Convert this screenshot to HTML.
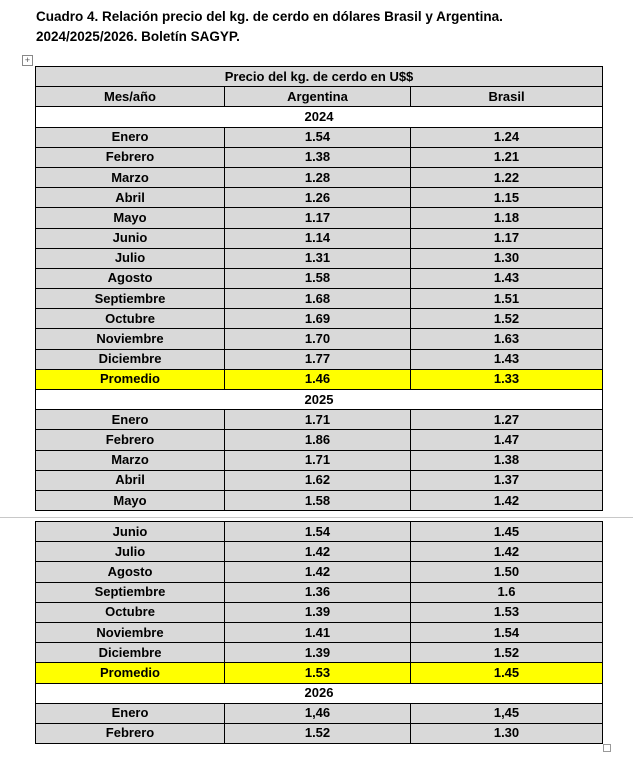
<!DOCTYPE html>
<html><head><meta charset="utf-8"><style>
body{margin:0;width:633px;height:761px;background:#fff;position:relative;overflow:hidden;font-family:"Liberation Sans",sans-serif;font-weight:bold;color:#000}
.t{position:absolute;left:36px;font-size:13.5px;line-height:20px}
table{position:absolute;left:35px;border-collapse:collapse;table-layout:fixed;width:567px}
td{border:1px solid #000;background:#d9d9d9;text-align:center;font-size:13px;padding:0;height:19.2px;line-height:18px;overflow:hidden}
tr.w td{background:#fff}
tr.y td{background:#ffff00}
.brk{position:absolute;left:0;top:517px;width:633px;height:1px;background:#c8c8c8}
.mv{position:absolute;left:22px;top:55px;width:9px;height:9px;border:1px solid #888;font-size:9px;line-height:9px;text-align:center;color:#555;font-weight:normal}
.sq{position:absolute;left:603px;top:744px;width:6px;height:6px;border:1px solid #999}
</style></head><body>
<div class="t" style="top:7px">Cuadro 4. Relación precio del kg. de cerdo en dólares Brasil y Argentina.</div>
<div class="t" style="top:27px">2024/2025/2026. Boletín SAGYP.</div>
<div class="mv">+</div>
<table style="top:66px">
<colgroup><col style="width:189px"><col style="width:186px"><col style="width:192px"></colgroup>
<tr><td colspan="3">Precio del kg. de cerdo en U$$</td></tr>
<tr><td>Mes/año</td><td>Argentina</td><td>Brasil</td></tr>
<tr class="w"><td colspan="3">2024</td></tr>
<tr><td>Enero</td><td>1.54</td><td>1.24</td></tr>
<tr><td>Febrero</td><td>1.38</td><td>1.21</td></tr>
<tr><td>Marzo</td><td>1.28</td><td>1.22</td></tr>
<tr><td>Abril</td><td>1.26</td><td>1.15</td></tr>
<tr><td>Mayo</td><td>1.17</td><td>1.18</td></tr>
<tr><td>Junio</td><td>1.14</td><td>1.17</td></tr>
<tr><td>Julio</td><td>1.31</td><td>1.30</td></tr>
<tr><td>Agosto</td><td>1.58</td><td>1.43</td></tr>
<tr><td>Septiembre</td><td>1.68</td><td>1.51</td></tr>
<tr><td>Octubre</td><td>1.69</td><td>1.52</td></tr>
<tr><td>Noviembre</td><td>1.70</td><td>1.63</td></tr>
<tr><td>Diciembre</td><td>1.77</td><td>1.43</td></tr>
<tr class="y"><td>Promedio</td><td>1.46</td><td>1.33</td></tr>
<tr class="w"><td colspan="3">2025</td></tr>
<tr><td>Enero</td><td>1.71</td><td>1.27</td></tr>
<tr><td>Febrero</td><td>1.86</td><td>1.47</td></tr>
<tr><td>Marzo</td><td>1.71</td><td>1.38</td></tr>
<tr><td>Abril</td><td>1.62</td><td>1.37</td></tr>
<tr><td>Mayo</td><td>1.58</td><td>1.42</td></tr>
</table>
<div class="brk"></div>
<table style="top:521px">
<colgroup><col style="width:189px"><col style="width:186px"><col style="width:192px"></colgroup>
<tr><td>Junio</td><td>1.54</td><td>1.45</td></tr>
<tr><td>Julio</td><td>1.42</td><td>1.42</td></tr>
<tr><td>Agosto</td><td>1.42</td><td>1.50</td></tr>
<tr><td>Septiembre</td><td>1.36</td><td>1.6</td></tr>
<tr><td>Octubre</td><td>1.39</td><td>1.53</td></tr>
<tr><td>Noviembre</td><td>1.41</td><td>1.54</td></tr>
<tr><td>Diciembre</td><td>1.39</td><td>1.52</td></tr>
<tr class="y"><td>Promedio</td><td>1.53</td><td>1.45</td></tr>
<tr class="w"><td colspan="3">2026</td></tr>
<tr><td>Enero</td><td>1,46</td><td>1,45</td></tr>
<tr><td>Febrero</td><td>1.52</td><td>1.30</td></tr>
</table>
<div class="sq"></div>
</body></html>
